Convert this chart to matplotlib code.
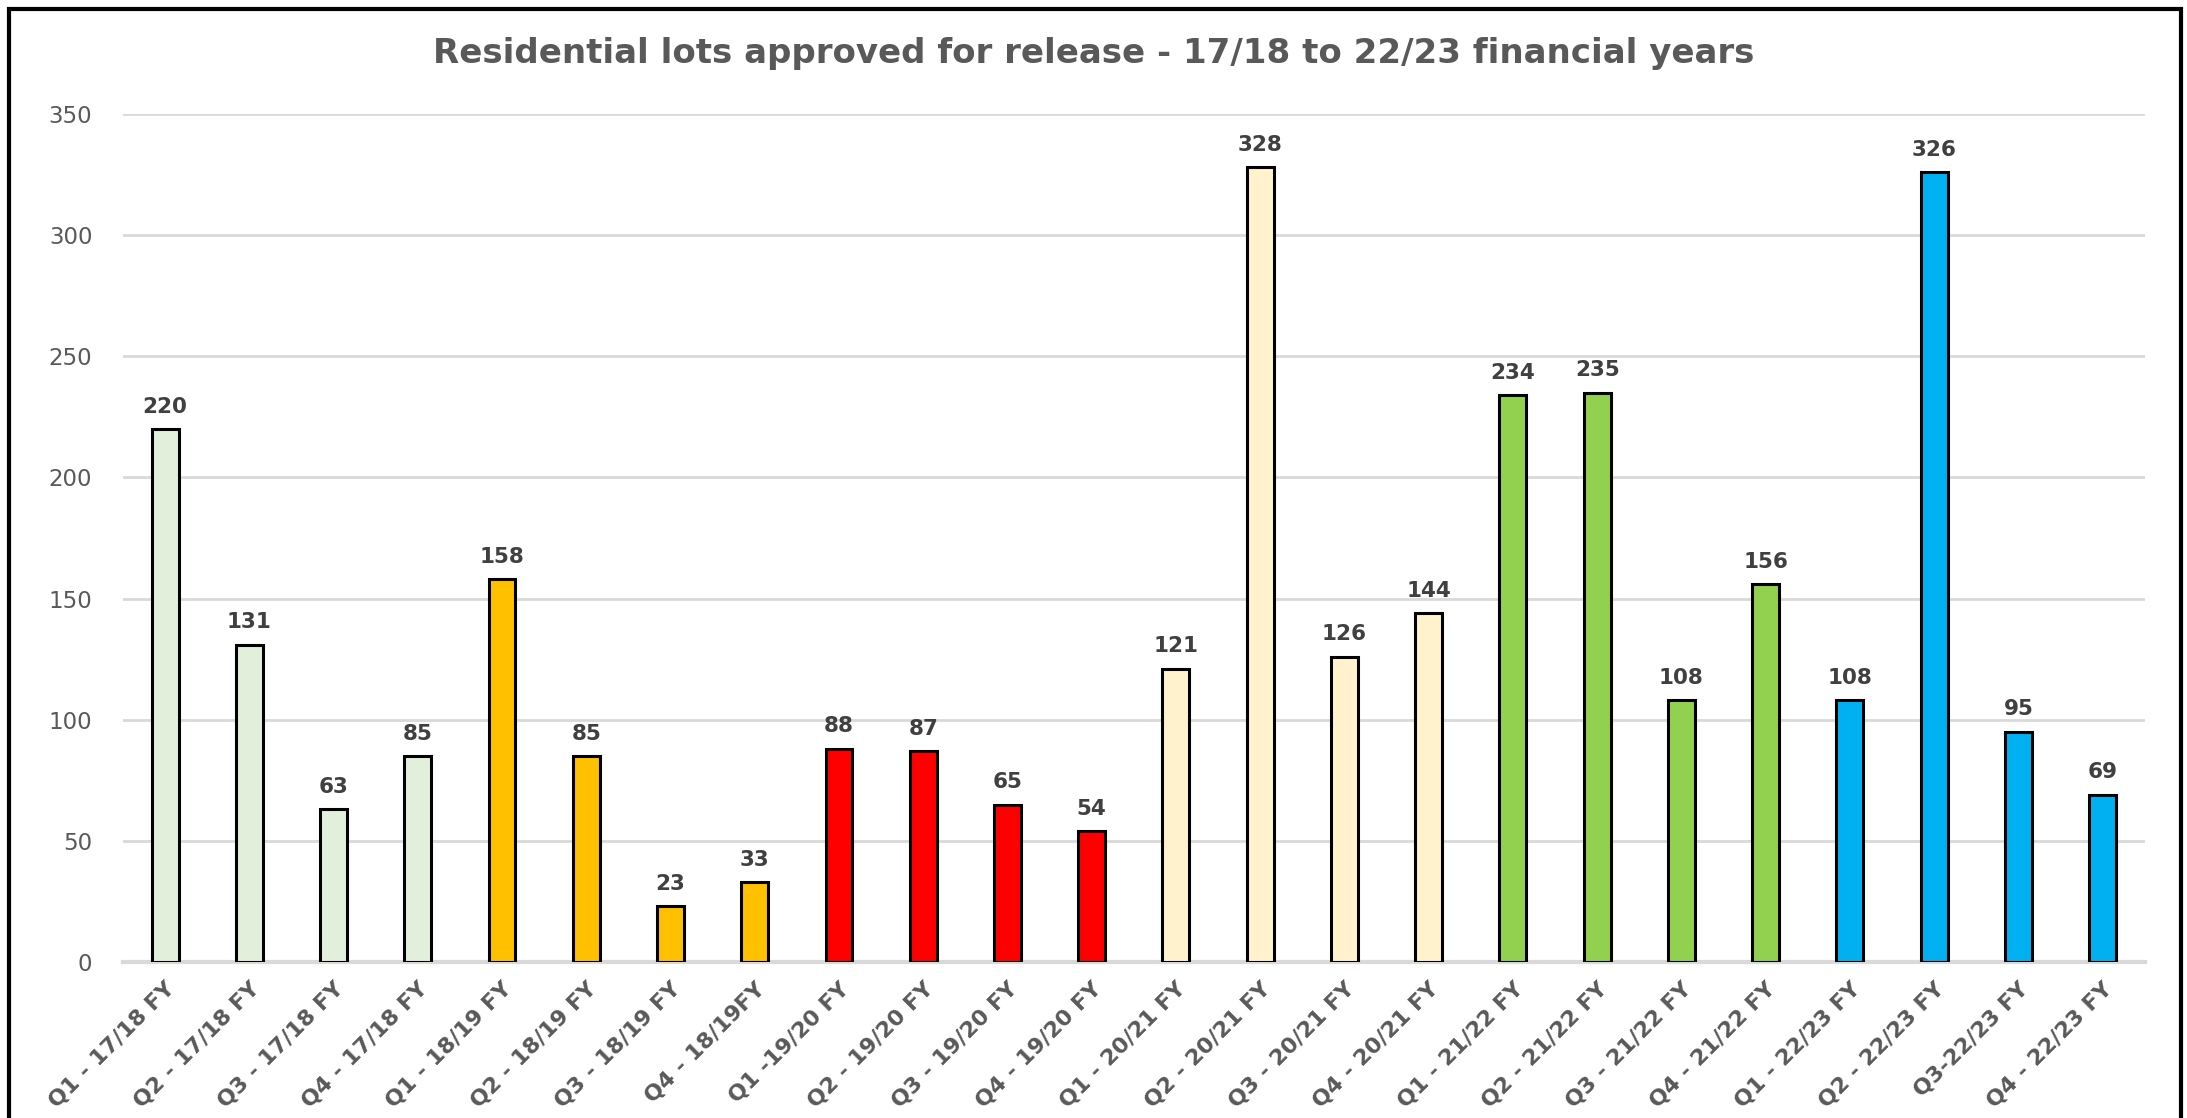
import matplotlib
matplotlib.use("Agg")
import matplotlib.pyplot as plt
from matplotlib.patches import Rectangle

# quarter labels and values
quarters = [
    "Q1 - 17/18 FY", "Q2 - 17/18 FY", "Q3 - 17/18 FY", "Q4 - 17/18 FY",
    "Q1 - 18/19 FY", "Q2 - 18/19 FY", "Q3 - 18/19 FY", "Q4 - 18/19FY",
    "Q1 -19/20 FY", "Q2 - 19/20 FY", "Q3 - 19/20 FY", "Q4 - 19/20 FY",
    "Q1 - 20/21 FY", "Q2 - 20/21 FY", "Q3 - 20/21 FY", "Q4 - 20/21 FY",
    "Q1 - 21/22 FY", "Q2 - 21/22 FY", "Q3 - 21/22 FY", "Q4 - 21/22 FY",
    "Q1 - 22/23 FY", "Q2 - 22/23 FY", "Q3-22/23 FY", "Q4 - 22/23 FY",
]
lots = [220, 131, 63, 85, 158, 85, 23, 33, 88, 87, 65, 54,
        121, 328, 126, 144, 234, 235, 108, 156, 108, 326, 95, 69]

# one colour per financial year, four quarters each
year_colors = ["#E2EFDA", "#FFC000", "#FF0000", "#FFF2CC", "#92D050", "#00B0F0"]
bar_colors = [c for c in year_colors for _ in range(4)]

TEXT_GREY = "#595959"
GRID_GREY = "#D9D9D9"

fig = plt.figure(figsize=(21.87, 11.18), dpi=100)
ax = fig.add_axes([0.0562, 0.1395, 0.9245, 0.7585])

x = range(len(lots))
ax.bar(x, lots, width=0.32, color=bar_colors, edgecolor="black",
       linewidth=2.2, zorder=3)

# value labels above each bar
for i, v in enumerate(lots):
    ax.annotate(str(v), xy=(i, v), xytext=(0, 9), textcoords="offset points",
                ha="center", va="bottom", fontsize=15.5, fontweight="bold",
                color="#404040")

ax.set_xlim(-0.5, len(lots) - 0.5)
ax.set_ylim(0, 350)
ax.set_yticks(range(0, 351, 50))
ax.yaxis.grid(True, color=GRID_GREY, linewidth=2, zorder=0)
ax.set_axisbelow(True)

for side in ["top", "right", "left"]:
    ax.spines[side].set_visible(False)
ax.spines["bottom"].set_color(GRID_GREY)
ax.spines["bottom"].set_linewidth(3)

ax.tick_params(axis="y", length=0, pad=22, labelsize=16.5, labelcolor=TEXT_GREY)
ax.tick_params(axis="x", length=0, pad=12)
ax.set_xticks(list(x))
ax.set_xticklabels(quarters, rotation=45, ha="right", rotation_mode="anchor",
                   fontsize=16, fontweight="bold", color=TEXT_GREY)

fig.text(0.5, 0.952, "Residential lots approved for release - 17/18 to 22/23 financial years",
         ha="center", va="center", fontsize=24.5, fontweight="bold", color=TEXT_GREY)

# black frame round the chart (bottom edge falls outside the image)
frame = Rectangle((9 / 2187, -0.02), (2181 - 9) / 2187, 1.02 - 9 / 1118,
                  transform=fig.transFigure, fill=False, edgecolor="black",
                  linewidth=3, clip_on=False)
fig.patches.append(frame)

fig.savefig("out.png", dpi=100)
plt.close(fig)
